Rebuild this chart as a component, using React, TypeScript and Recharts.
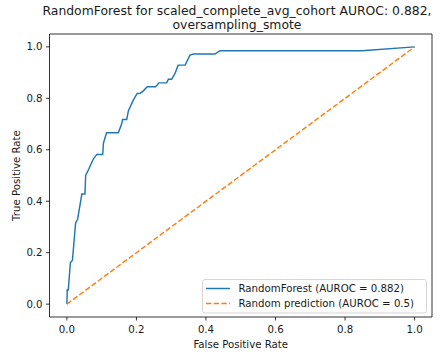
import React from "react";
import {
  LineChart,
  Line,
  XAxis,
  YAxis,
  ReferenceArea,
  Customized,
} from "recharts";

// ROC curve of the RandomForest model
const fprValues = [
  0, 0.001, 0.004, 0.01, 0.016, 0.025, 0.031, 0.043, 0.052, 0.054, 0.064,
  0.076, 0.086, 0.103, 0.105, 0.114, 0.148, 0.158, 0.16, 0.172, 0.177, 0.191,
  0.202, 0.211, 0.22, 0.231, 0.255, 0.265, 0.287, 0.292, 0.301, 0.311, 0.32,
  0.34, 0.354, 0.364, 0.426, 0.44, 0.848, 1.0,
];
const tprValues = [
  0, 0.055, 0.055, 0.161, 0.171, 0.315, 0.331, 0.428, 0.428, 0.5, 0.528,
  0.564, 0.582, 0.582, 0.625, 0.666, 0.666, 0.703, 0.718, 0.718, 0.752, 0.793,
  0.819, 0.82, 0.829, 0.845, 0.845, 0.86, 0.86, 0.874, 0.874, 0.897, 0.929,
  0.929, 0.968, 0.972, 0.972, 0.985, 0.985, 1.0,
];

// Chance-level diagonal
const randomFpr = [0, 1];
const randomTpr = [0, 1];

const axisTicks = [0, 0.2, 0.4, 0.6, 0.8, 1.0];

const titleLines = [
  "RandomForest for scaled_complete_avg_cohort AUROC: 0.882,",
  "oversampling_smote",
];
const xLabel = "False Positive Rate";
const yLabel = "True Positive Rate";
const legendItems = [
  { label: "RandomForest (AUROC = 0.882)", color: "#1f77b4", dash: undefined },
  { label: "Random prediction (AUROC = 0.5)", color: "#ff7f0e", dash: "5.4 2.3" },
];

const rocData = fprValues.map((fpr, i) => ({ fpr, tpr: tprValues[i] }));
const randomData = randomFpr.map((fpr, i) => ({ fpr, tpr: randomTpr[i] }));

const FONT = "'DejaVu Sans', sans-serif";
const TEXT = "#1a1a1a";
const SMALL = 10.2;
const TITLE = 12.4;

const Decorations = () => (
  <g fontFamily={FONT} fill={TEXT}>
    <text x={237} y={15} fontSize={TITLE} textAnchor="middle">
      {titleLines[0]}
    </text>
    <text x={237} y={28.5} fontSize={TITLE} textAnchor="middle">
      {titleLines[1]}
    </text>
    <text x={240.75} y={347.5} fontSize={SMALL} textAnchor="middle">
      {xLabel}
    </text>
    <text
      x={0}
      y={0}
      fontSize={SMALL}
      textAnchor="middle"
      transform="translate(20,175.5) rotate(-90)"
    >
      {yLabel}
    </text>
    <g>
      <rect
        x={202.5}
        y={279.5}
        width={224}
        height={33.5}
        rx={2.5}
        fill="#ffffff"
        fillOpacity={0.8}
        stroke="#cccccc"
        strokeWidth={0.8}
      />
      {legendItems.map((item, i) => {
        const cy = 288.5 + i * 15;
        return (
          <g key={item.label}>
            <line
              x1={206}
              x2={230}
              y1={cy}
              y2={cy}
              stroke={item.color}
              strokeWidth={1.45}
              strokeDasharray={item.dash}
            />
            <text x={238.5} y={cy + 3.7} fontSize={SMALL}>
              {item.label}
            </text>
          </g>
        );
      })}
    </g>
  </g>
);

export default function App() {
  return (
    <div style={{ position: "absolute", left: 0, top: 0, width: 442, height: 356, background: "#fff" }}>
      <LineChart
        width={442}
        height={356}
        margin={{ top: 34, right: 10, bottom: 0, left: 0 }}
      >
        <XAxis
          dataKey="fpr"
          type="number"
          domain={[-0.05, 1.05]}
          ticks={axisTicks}
          tickFormatter={(v: number) => v.toFixed(1)}
          height={39}
          axisLine={false}
          tickSize={3.5}
          tickMargin={5.2}
          tickLine={{ stroke: "#000", strokeWidth: 0.8 }}
          tick={{ fontSize: SMALL, fill: TEXT, fontFamily: FONT }}
          allowDataOverflow
        />
        <YAxis
          dataKey="tpr"
          type="number"
          domain={[-0.05, 1.05]}
          ticks={axisTicks}
          tickFormatter={(v: number) => v.toFixed(1)}
          width={49.5}
          axisLine={false}
          tickSize={3.5}
          tickMargin={3.4}
          tickLine={{ stroke: "#000", strokeWidth: 0.8 }}
          tick={{ fontSize: SMALL, fill: TEXT, fontFamily: FONT }}
          allowDataOverflow
        />
        <ReferenceArea
          x1={-0.05}
          x2={1.05}
          y1={-0.05}
          y2={1.05}
          fill="none"
          fillOpacity={0}
          stroke="#000"
          strokeWidth={0.8}
        />
        <Line
          data={rocData}
          dataKey="tpr"
          type="linear"
          stroke="#1f77b4"
          strokeWidth={1.45}
          dot={false}
          activeDot={false}
          isAnimationActive={false}
        />
        <Line
          data={randomData}
          dataKey="tpr"
          type="linear"
          stroke="#ff7f0e"
          strokeWidth={1.45}
          strokeDasharray="5.4 2.3"
          dot={false}
          activeDot={false}
          isAnimationActive={false}
        />
        <Customized component={Decorations} />
      </LineChart>
    </div>
  );
}
